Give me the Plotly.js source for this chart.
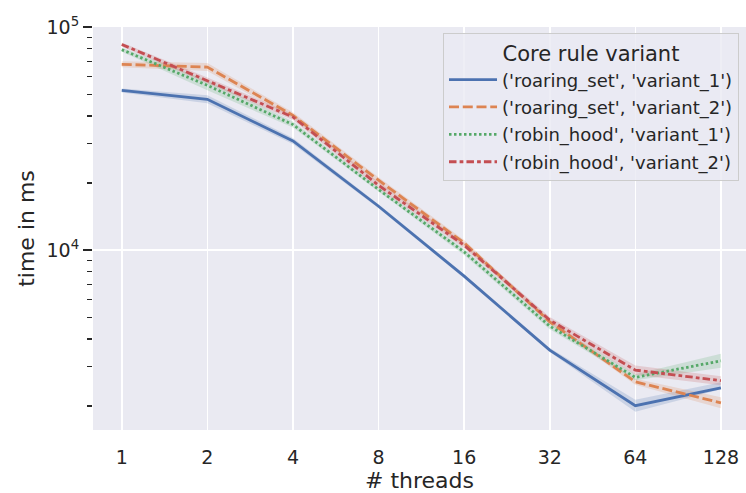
<!DOCTYPE html>
<html>
<head>
<meta charset="utf-8">
<script src="https://cdn.plot.ly/plotly-3.0.1.min.js"></script>
<style>html,body{margin:0;padding:0;background:#fff;}#chart{width:746px;height:493px;}</style>
</head>
<body>
<div id="chart"></div>
<script>
const threads = [1, 2, 4, 8, 16, 32, 64, 128];
const tickLabels = ["1", "2", "4", "8", "16", "32", "64", "128"];
const seriesNames = ["('roaring_set', 'variant_1')", "('roaring_set', 'variant_2')", "('robin_hood', 'variant_1')", "('robin_hood', 'variant_2')"];

const rsV1 = [52000, 47450, 30870, 15740, 7650, 3567, 2008, 2417];
const rsV1Lo = [50930, 45530, 29920, 15420, 7490, 3494, 1887, 2380];
const rsV1Hi = [53090, 49460, 31850, 16070, 7810, 3642, 2137, 2560];

const rsV2 = [68100, 66200, 40240, 20590, 10780, 4775, 2570, 2070];
const rsV2Lo = [66010, 63550, 39010, 19960, 10450, 4677, 2491, 1955];
const rsV2Hi = [70250, 69020, 41510, 21240, 11120, 4875, 2651, 2191];

const rhV1 = [79200, 54830, 36560, 18710, 9825, 4567, 2692, 3192];
const rhV1Lo = [77570, 52070, 35440, 18330, 9524, 4427, 2610, 2969];
const rhV1Hi = [80860, 57740, 37720, 19100, 10136, 4711, 2777, 3432];

const rhV2 = [83640, 57650, 39530, 19540, 10530, 4860, 2901, 2600];
const rhV2Lo = [81920, 55890, 38320, 18940, 10210, 4711, 2768, 2481];
const rhV2Hi = [85400, 59470, 40780, 20160, 10860, 5013, 3040, 2725];

const colors = ["#4C72B0", "#DD8452", "#55A868", "#C44E52"];
const bandColors = ["rgba(76,114,176,0.2)", "rgba(221,132,82,0.2)", "rgba(85,168,104,0.2)", "rgba(196,78,82,0.2)"];
const dashes = ["solid", "10px,3.75px", "2.5px,2.5px", "7.5px,3.1px,3.75px,3.1px"];

const means = [rsV1, rsV2, rhV1, rhV2];
const los = [rsV1Lo, rsV2Lo, rhV1Lo, rhV2Lo];
const his = [rsV1Hi, rsV2Hi, rhV1Hi, rhV2Hi];

const traces = [];
for (let i = 0; i < 4; i++) {
  traces.push({
    x: threads.concat(threads.slice().reverse()),
    y: his[i].concat(los[i].slice().reverse()),
    type: "scatter", mode: "lines", fill: "toself",
    fillcolor: bandColors[i], line: {width: 0, color: bandColors[i]},
    hoverinfo: "skip", showlegend: false, legendgroup: "g" + i
  });
}
for (let i = 0; i < 4; i++) {
  traces.push({
    x: threads, y: means[i], name: seriesNames[i],
    type: "scatter", mode: "lines",
    line: {color: colors[i], width: 2.8, dash: dashes[i]},
    legendgroup: "g" + i
  });
}

const LOG2 = Math.log10(2);
const minorVals = [];
[1000, 10000].forEach(b => { for (let k = 2; k <= 9; k++) minorVals.push(b * k); });

const layout = {
  width: 746, height: 493,
  margin: {l: 93, r: 0, t: 27, b: 63, pad: 0},
  paper_bgcolor: "#ffffff",
  plot_bgcolor: "#EAEAF2",
  font: {family: "DejaVu Sans, sans-serif", color: "#262626", size: 19},
  xaxis: {
    type: "log",
    range: [-0.336 * LOG2, 7.293 * LOG2],
    tickvals: threads, ticktext: tickLabels,
    showgrid: true, gridcolor: "#ffffff", gridwidth: 1.6,
    zeroline: false, showline: false,
    ticks: "outside", ticklen: 10, tickcolor: "rgba(0,0,0,0)",
    tickfont: {size: 19, color: "#262626"},
    title: {text: "# threads", font: {size: 22, color: "#262626"}, standoff: 5}
  },
  yaxis: {
    type: "log",
    range: [3.194, 5.0005],
    tickvals: [10000, 100000],
    ticktext: ["10<sup>4</sup>", "10<sup>5</sup>"],
    showgrid: true, gridcolor: "#ffffff", gridwidth: 1.6,
    zeroline: false, showline: false,
    ticks: "outside", ticklen: 9, tickwidth: 1.6, tickcolor: "#262626",
    tickfont: {size: 19, color: "#262626"},
    minor: {tickvals: minorVals, ticks: "outside", ticklen: 5, tickwidth: 1.3, tickcolor: "#262626", showgrid: false},
    title: {text: "time in ms", font: {size: 22, color: "#262626"}, standoff: 5}
  },
  legend: {
    x: 0.536, y: 0.985, xanchor: "left", yanchor: "top",
    bgcolor: "rgba(234,234,242,0.8)", bordercolor: "#cccccc", borderwidth: 1,
    font: {size: 18, color: "#262626"},
    title: {text: "Core rule variant", font: {size: 21, color: "#262626"}, side: "top center"},
    tracegroupgap: 1,
    itemwidth: 48
  },
  showlegend: true
};

Plotly.newPlot("chart", traces, layout, {displayModeBar: false, staticPlot: true});
</script>
</body>
</html>
